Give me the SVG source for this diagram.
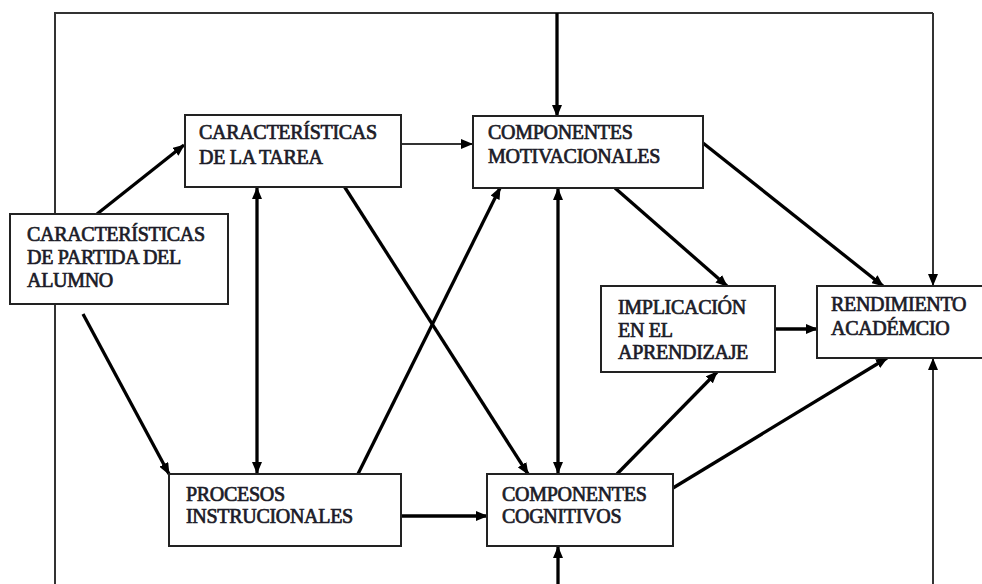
<svg xmlns="http://www.w3.org/2000/svg" width="982" height="584" viewBox="0 0 982 584">
<defs>
<marker id="ah" markerUnits="userSpaceOnUse" markerWidth="12" markerHeight="10" refX="11" refY="5" orient="auto-start-reverse">
<path d="M0,0 L12,5 L0,10 z" fill="#000"/>
</marker>
<style>
.box{fill:#fff;stroke:#222;stroke-width:2}
.t{font-family:"Liberation Serif","Times New Roman",serif;font-size:20px;fill:#1c1c28;stroke:#1c1c28;stroke-width:0.7;letter-spacing:-0.3px}
.c{fill:none;stroke:#000;stroke-width:3.3}
.f{fill:none;stroke:#333;stroke-width:2}
.a{marker-end:url(#ah)}
.d{marker-start:url(#ah);marker-end:url(#ah)}
</style>
</defs>
<rect width="982" height="584" fill="#fff"/>
<g id="connectors">
<polyline class="f" points="55,584 55,13 933,13"/>
<line class="f a" x1="933" y1="13" x2="933" y2="285"/>
<line class="c a" x1="557" y1="13" x2="557" y2="116"/>
<line class="c a" x1="558" y1="584" x2="558" y2="547"/>
<line class="f a" x1="933" y1="584" x2="933" y2="359"/>
<line class="c a" x1="97" y1="214" x2="184" y2="145"/>
<line class="c a" x1="83" y1="314" x2="169" y2="474"/>
<line class="c d" x1="257" y1="188" x2="257" y2="473"/>
<line class="c a" x1="344" y1="186" x2="528" y2="474"/>
<line class="c a" x1="358" y1="474" x2="500" y2="188"/>
<line class="c d" x1="558" y1="189" x2="558" y2="473"/>
<line class="f a" x1="401" y1="144" x2="472" y2="144"/>
<line class="c a" x1="615" y1="188" x2="727" y2="286"/>
<line class="c a" x1="703" y1="143" x2="883" y2="286"/>
<line class="c a" x1="775" y1="329" x2="817" y2="329"/>
<line class="c a" x1="401" y1="516" x2="487" y2="516"/>
<line class="c a" x1="617" y1="474" x2="717" y2="372"/>
<line class="c a" x1="673" y1="488" x2="887" y2="358"/>
</g>
<g id="tarea">
<rect class="box" x="185" y="115" width="216" height="72"/>
<text class="t" x="199" y="139">CARACTERÍSTICAS</text>
<text class="t" x="199" y="164">DE LA TAREA</text>
</g>
<g id="motivacionales">
<rect class="box" x="473" y="116" width="230" height="72"/>
<text class="t" x="488" y="139">COMPONENTES</text>
<text class="t" x="488" y="163">MOTIVACIONALES</text>
</g>
<g id="alumno">
<rect class="box" x="10" y="214" width="218" height="90"/>
<text class="t" x="27" y="241">CARACTERÍSTICAS</text>
<text class="t" x="27" y="264">DE PARTIDA DEL</text>
<text class="t" x="27" y="287">ALUMNO</text>
</g>
<g id="implicacion">
<rect class="box" x="601" y="286" width="174" height="86"/>
<text class="t" x="618" y="314">IMPLICACIÓN</text>
<text class="t" x="618" y="337">EN EL</text>
<text class="t" x="618" y="359">APRENDIZAJE</text>
</g>
<g id="rendimiento">
<rect class="box" x="817" y="286" width="175" height="72"/>
<text class="t" x="831" y="311">RENDIMIENTO</text>
<text class="t" x="831" y="335">ACADÉMCIO</text>
</g>
<g id="procesos">
<rect class="box" x="169" y="474" width="232" height="72"/>
<text class="t" x="186" y="501">PROCESOS</text>
<text class="t" x="186" y="523">INSTRUCIONALES</text>
</g>
<g id="cognitivos">
<rect class="box" x="487" y="474" width="186" height="72"/>
<text class="t" x="502" y="501">COMPONENTES</text>
<text class="t" x="502" y="523">COGNITIVOS</text>
</g>
</svg>
